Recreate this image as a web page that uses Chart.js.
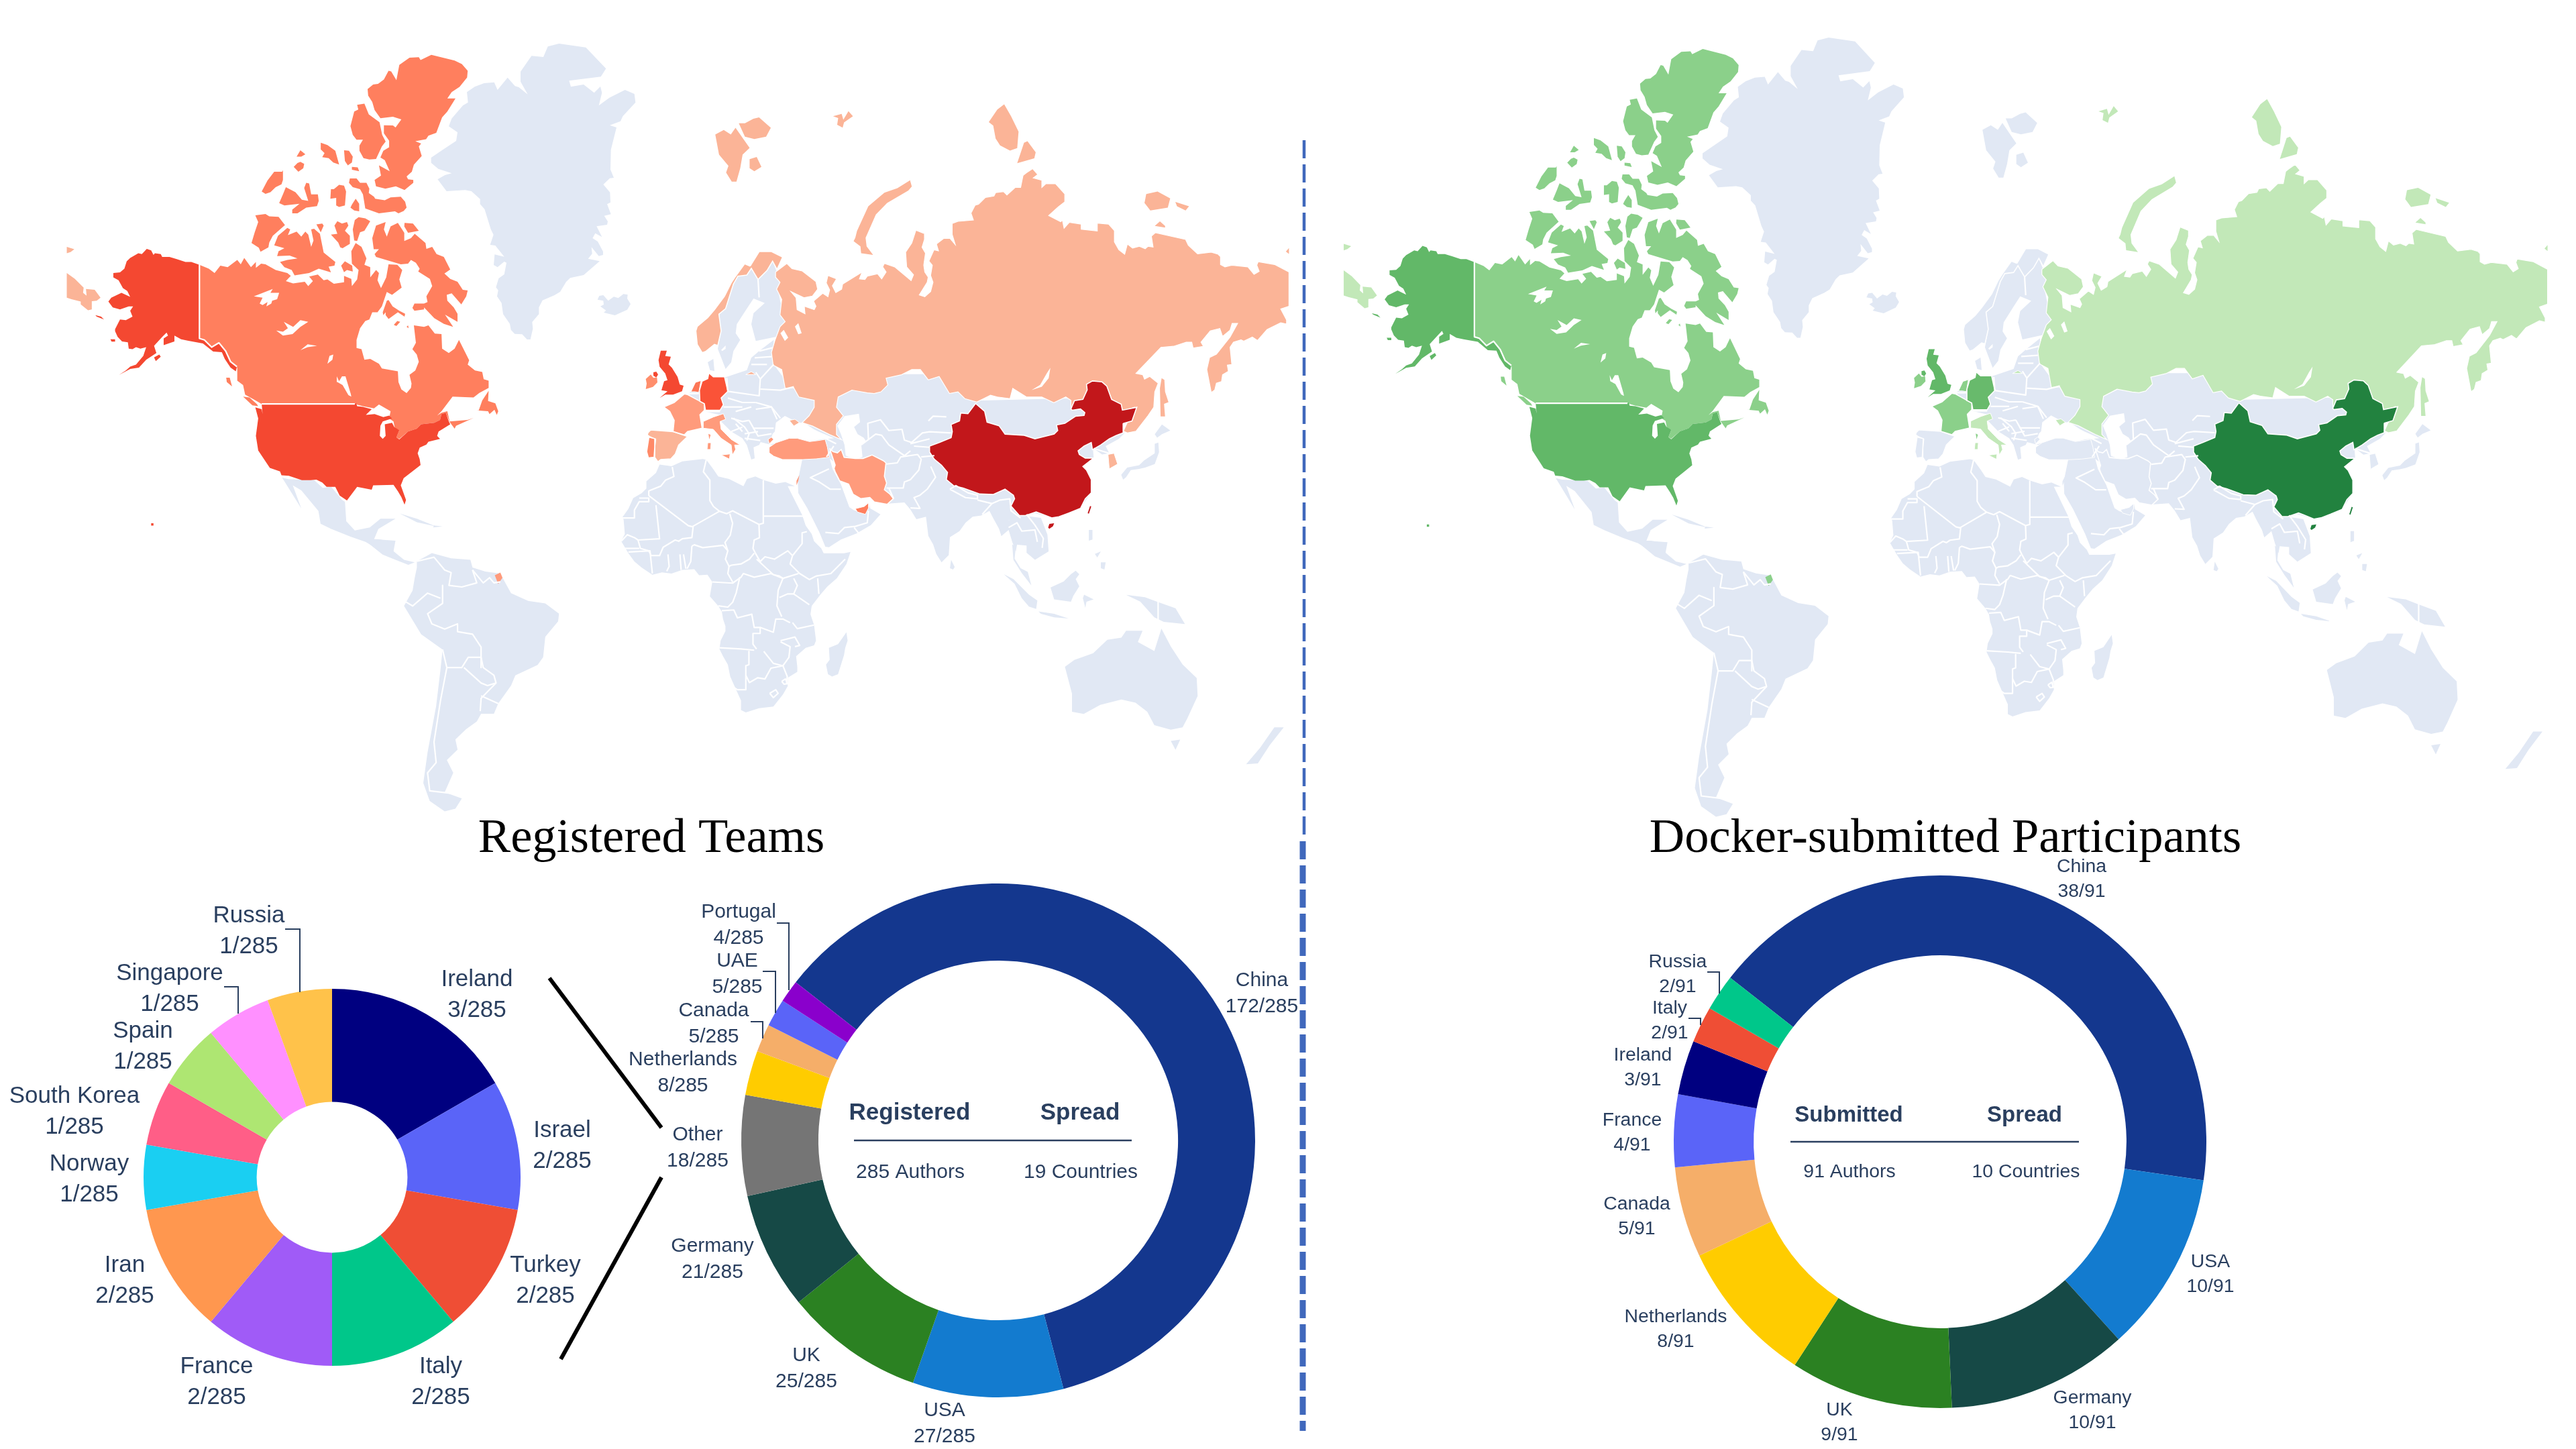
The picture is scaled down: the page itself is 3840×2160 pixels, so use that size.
<!DOCTYPE html>
<html><head><meta charset="utf-8">
<style>html,body{margin:0;padding:0;background:#fff;width:3840px;height:2160px;overflow:hidden}canvas{position:absolute;display:block}</style>
<script src="https://cdn.jsdelivr.net/npm/chart.js@4/dist/chart.umd.min.js"></script>
</head><body>
<script>
/* ---------- chart values ---------- */
const teamOtherLabels=['Ireland','Israel','Turkey','Italy','France','Iran','Norway','South Korea','Spain','Singapore','Russia'];
const teamOtherValues=[3,2,2,2,2,2,1,1,1,1,1];
const teamOtherColors=['#000080','#5A64F8','#EF4E35','#00C78A','#A05BF7','#FF974F','#1ACFF2','#FF5E87','#AEE672','#FF90FF','#FFC24A'];
const teamLabels=['China','USA','UK','Germany','Other','Netherlands','Canada','UAE','Portugal'];
const teamValues=[172,27,25,21,18,8,5,5,4];
const teamColors=['#14378E','#137BCF','#2B8122','#164946','#757575','#FFCC00','#F5AE69','#5A64F8','#8A00CC'];
const dockerLabels=['China','USA','Germany','UK','Netherlands','Canada','France','Ireland','Italy','Russia'];
const dockerValues=[38,10,10,9,8,5,4,3,2,2];
const dockerColors=['#14378E','#137BCF','#164946','#2B8122','#FFCC00','#F5AE69','#5A64F8','#000080','#EF4E35','#00C78A'];
const teamTotal=285, dockerTotal=91;
/* map shading per country */
const LAND='#E1E8F4';
const teamFill={China:'#C2171B',USA:'#F44831',UK:'#F44831',Germany:'#FA5338',Netherlands:'#FC7757',Canada:'#FF7F5E',UAE:'#FF7F5E',Portugal:'#FF8A68',Ireland:'#FF8E6C',France:'#FF9B7C',Italy:'#FF9B7C',Iran:'#FF9B7C',Turkey:'#FF9B7C',Israel:'#FF9B7C',Russia:'#FBB497',Spain:'#FBB497',Norway:'#FBB497',Korea:'#FBB497'};
const dockerFill={China:'#22823F',USA:'#62B868',UK:'#62B868',Germany:'#68BA6C',Netherlands:'#8BD08A',Canada:'#8BD08A',France:'#8BD08A',Ireland:'#8BD08A',Russia:'#C2E8B8',Italy:'#C2E8B8'};

/* ---------- map outlines: traced lists, each with the frame it was read in [x0,y0,kx,ky] ---------- */
const NA=[90,60,.4337,.4337], WA=[60,50,.638,.7653], GR=[520,60,1/3,1/3], EU=[950,380,1/3,1/3], AS=[1150,130,.5102,.5102], CN=[1200,540,.3571,.3571], AF=[910,680,.3571,.3571], OC=[900,100,.7015,.6696];
const greenland=[890,28,940,15,1060,32,1150,127,1127,163,985,181,993,208,1050,198,1097,235,1125,207,1132,235,1118,292,1165,257,1235,222,1277,240,1282,278,1225,340,1215,362,1167,380,1197,390,1172,490,1170,578,1185,615,1167,617,1138,645,1168,680,1170,725,1155,733,1172,778,1142,785,1158,810,1155,825,1108,832,1132,880,1102,863,1090,885,1113,900,1137,945,1137,960,1118,965,1085,925,1088,955,1070,977,1122,988,1050,1050,990,1063,972,1080,945,1125,920,1140,866,1163,850,1195,850,1225,820,1260,823,1290,812,1338,797,1338,775,1315,742,1313,725,1295,720,1268,690,1225,683,1175,663,1145,668,1118,658,1105,670,1065,695,1047,705,995,695,990,665,1015,648,1005,652,958,695,968,655,918,632,915,647,870,635,845,607,755,587,733,587,710,548,675,520,670,437,675,397,622,430,603,460,595,400,575,368,548,368,525,420,490,480,450,486,412,447,385,460,350,510,292,533,278,528,232,563,208,605,192,650,188,665,222,710,167,743,205,760,210,800,242,768,185,768,140,817,70,870,75];
const iceland=[1112,1160,1120,1143,1138,1140,1160,1165,1185,1147,1205,1153,1228,1135,1247,1138,1245,1155,1260,1180,1245,1205,1190,1230,1140,1218,1150,1208,1125,1190,1140,1182,1138,1165];
const canadaMain=[478,772,510,785,530,800,550,775,575,780,608,755,620,770,632,748,655,780,672,762,672,782,690,768,705,770,740,790,780,800,792,810,775,828,800,836,840,830,852,845,868,828,855,812,885,805,905,825,918,822,940,837,975,832,975,810,1000,820,1002,845,1020,822,1025,790,1002,768,1000,725,1015,697,1035,710,1052,750,1045,772,1065,780,1065,815,1085,790,1095,800,1090,825,1102,852,1120,815,1128,770,1158,772,1175,790,1165,822,1173,850,1140,875,1122,865,1105,915,1090,935,1072,935,1062,960,1048,965,1030,990,1018,1030,1018,1058,1035,1062,1045,1098,1065,1095,1095,1112,1105,1128,1160,1138,1162,1175,1172,1200,1190,1213,1205,1195,1207,1180,1200,1150,1220,1135,1232,1105,1225,1080,1210,1062,1222,1040,1215,980,1250,985,1265,980,1287,1008,1310,1010,1312,1060,1335,1075,1355,1060,1370,1030,1405,1100,1400,1115,1425,1135,1450,1140,1455,1165,1472,1170,1472,1195,1440,1212,1420,1228,1348,1225,1310,1275,1295,1290,1310,1280,1330,1275,1338,1310,1400,1305,1420,1298,1360,1325,1355,1335,1338,1312,1325,1280,1310,1285,1305,1305,1285,1315,1240,1320,1225,1335,1195,1345,1165,1370,1155,1365,1165,1340,1150,1335,1145,1310,1130,1300,1135,1275,1095,1252,1078,1265,1040,1258,1018,1252,1015,1245,1012,1250,692,1250,665,1235,635,1218,628,1185,608,1170,608,1125,590,1110,570,1068,545,1040,520,1058,495,1030,478,1025];
const canadaIslands=[
[1165,85,1200,60,1232,58,1238,68,1275,50,1355,70,1380,82,1400,105,1398,128,1372,160,1345,178,1330,200,1358,200,1330,245,1312,265,1292,318,1265,328,1257,340,1220,347,1240,355,1232,365,1242,398,1215,428,1208,452,1190,468,1195,478,1213,480,1213,490,1183,515,1153,502,1117,510,1085,502,1080,480,1102,465,1095,430,1132,450,1115,412,1100,403,1110,380,1130,368,1130,345,1112,320,1112,292,1143,293,1152,300,1172,272,1143,263,1100,268,1080,240,1072,212,1058,190,1056,168,1075,152,1092,150,1112,135,1128,105,1137,107,1155,137],
[1020,222,1045,218,1060,255,1097,282,1106,325,1118,348,1105,365,1085,408,1062,410,1042,405,1028,380,1028,362,1040,342,1018,342,1005,325,997,295,1010,245,1024,238],
[812,400,825,378,842,392,828,400],[802,435,815,422,825,418,838,425,835,440,818,452],
[895,352,918,360,945,380,958,427,938,420,922,405,900,402,908,388,895,375],[975,378,992,380,1005,400,1002,420,988,430,978,415],[1002,435,1022,437,1027,450,1002,445],
[735,452,762,452,765,447,765,480,760,495,740,505,722,522,705,528,692,520,712,482],
[775,505,808,522,830,548,852,552,838,508,845,490,855,492,862,530,885,530,888,552,882,570,845,575,815,595,797,595,797,582,822,562,770,568,752,560,765,530],
[930,512,940,512,958,497,975,500,982,520,978,568,958,573,948,568,948,542,928,545],
[995,475,1018,475,1030,490,1052,490,1062,510,1060,525,1078,538,1082,545,1115,550,1135,540,1170,538,1185,555,1190,575,1180,587,1162,595,1150,588,1095,595,1048,578,1040,530,1030,512,1005,505,992,490],
[1002,565,1015,545,1027,562,1027,588,1010,585,997,575],
[670,602,705,597,718,605,750,607,772,635,730,672,718,695,715,712,688,727,682,713,657,697,668,660,680,625],
[735,705,748,672,780,645,790,650,782,670,812,658,828,675,842,658,852,668,862,710,870,688,862,650,872,648,892,665,905,730,945,762,942,775,922,778,930,798,888,785,855,800,805,808,795,790,770,780,755,762,780,755,815,750,788,740,745,742,750,725,770,715],
[880,633,900,630,905,637,895,660],
[942,637,952,622,968,630,985,625,990,637,978,655,995,672,995,700,970,715,962,712,955,695,930,668,952,665],
[1012,618,1025,608,1048,612,1065,622,1045,655,1030,660,1020,690,1010,688,1005,650],
[1085,637,1118,625,1112,650,1122,675,1135,640,1160,628,1182,662,1182,690,1205,680,1218,665,1255,697,1258,717,1278,710,1293,735,1318,745,1340,788,1320,802,1340,820,1365,830,1383,858,1400,860,1395,880,1378,908,1345,870,1328,875,1330,895,1352,918,1365,940,1365,968,1322,943,1350,985,1318,975,1285,955,1250,918,1250,925,1217,930,1210,920,1217,905,1250,905,1262,900,1258,880,1278,845,1270,820,1230,795,1235,785,1222,765,1205,755,1195,768,1170,770,1085,745,1080,735,1095,718,1077,718,1072,680],
[1183,628,1212,630,1232,655,1205,660,1195,662,1182,640],
[965,775,978,760,1003,775,1005,795,985,790,975,797],
[1122,895,1128,893,1142,915,1165,930,1185,940,1183,950,1160,935,1128,958,1118,945,1118,935,1110,945,1108,935],
[1146,978,1158,965,1168,968,1155,982],[1190,985,1195,980,1197,990],
[1438,1272,1450,1238,1472,1205,1470,1240,1495,1248,1505,1275,1500,1288,1492,1270,1475,1285,1470,1275,1430,1272],
[628,1225,650,1228,675,1250,680,1258,660,1255],[570,1160,582,1160,590,1190,572,1175]];
const canadaLakes=[[665,880,730,855,722,868,752,868,745,890,728,895,725,905,708,915,712,900,695,910,685,905,695,885],
[742,998,765,1002,782,990,768,968,800,985,825,962,852,968,825,985,798,1010,765,1015],
[825,1065,850,1045,882,1050,850,1055],[918,1112,925,1085,938,1080,935,1098],
[950,1155,958,1172,968,1155,980,1155,998,1215,1000,1225,990,1220,970,1185,952,1175],
[1225,830,1235,820,1245,830,1240,848,1225,850]];
const alaska=[478,772,450,762,430,762,400,752,375,745,350,745,345,735,325,732,320,738,312,722,297,717,280,735,268,732,240,748,228,760,220,785,205,798,182,800,182,815,200,825,215,852,230,862,240,882,210,868,175,885,165,898,180,918,205,925,235,915,250,915,240,930,248,950,225,962,205,960,188,993,188,1000,197,1020,212,1035,232,1038,235,1060,248,1062,260,1055,275,1060,295,1055,285,1085,260,1115,240,1122,225,1135,202,1150,240,1130,270,1125,295,1098,330,1075,322,1050,350,1020,365,1005,370,1015,355,1025,355,1048,392,1035,392,1015,415,1028,440,1033,490,1042,525,1070,555,1072,565,1095,585,1125,603,1138,607,1122,585,1105,568,1068,545,1040,520,1055,495,1030,478,1025];
const usaSmall=[[322,1090,340,1080,345,1088,328,1103],[120,945,140,950,150,960,125,950],[172,1028,188,1028,188,1036,176,1036],[312,1660,320,1660,320,1668,312,1668]];
const usaMain=[692,1250,1012,1250,1016,1245,1020,1258,1040,1260,1070,1268,1050,1288,1080,1285,1110,1295,1130,1290,1140,1300,1108,1310,1100,1325,1098,1360,1108,1370,1118,1360,1115,1320,1140,1315,1148,1330,1165,1340,1155,1365,1165,1372,1195,1345,1225,1335,1240,1320,1285,1315,1305,1305,1310,1285,1325,1280,1335,1310,1340,1320,1300,1345,1295,1360,1305,1370,1265,1380,1258,1390,1235,1400,1228,1420,1235,1440,1238,1460,1215,1478,1180,1505,1170,1530,1188,1580,1183,1596,1172,1570,1160,1550,1145,1528,1075,1530,1070,1545,1020,1535,985,1582,960,1565,945,1535,915,1535,900,1520,880,1510,860,1512,830,1512,785,1497,760,1495,755,1482,720,1470,700,1440,680,1410,672,1360,680,1300,670,1262,692,1268,695,1285];
const chukotkaWest=[[22,800,50,820,80,850,78,868,90,878,88,855,118,858,138,885,125,895,108,897,108,925,95,928,70,908,70,898,38,890,22,885],[22,710,48,718,35,728,22,732]];
const mexico=[565,865,580,868,640,870,660,885,680,883,705,908,712,912,715,950,735,968,770,962,795,945,830,945,790,965,780,985,830,988,825,1010,800,1000,800,1010,760,990,725,980,680,965,655,955,650,930,610,890,590,880,610,925,580,885];
const centralAm=[760,985,790,985,825,990,825,1008,850,1025,875,1030,860,1035,830,1025,800,1015,770,995];
const cuba=[840,935,880,945,925,960,880,952];
const hispaniola=[920,958,940,960,918,962];
const southAm=[880,1028,915,1012,960,1022,1005,1025,1010,1040,1040,1048,1075,1052,1090,1075,1100,1090,1140,1105,1180,1110,1212,1130,1210,1145,1180,1175,1175,1215,1162,1230,1110,1250,1100,1270,1070,1305,1060,1325,1030,1325,1020,1340,995,1355,970,1375,975,1395,950,1415,965,1440,945,1478,985,1490,970,1510,945,1515,910,1495,895,1460,905,1400,925,1310,935,1240,940,1200,890,1170,850,1115,870,1085,875,1060,880,1040];
const frGuiana=[1062,1055,1075,1050,1080,1060,1070,1072];
const southAmBorders=[[880,1028,920,1020,945,1045,960,1050,955,1075,985,1078,1020,1070,1010,1045],[1010,1045,1035,1070,1050,1060,1060,1070,1075,1068],[940,1075,940,1110,905,1130,915,1150,945,1160,975,1150,975,1165,1010,1170,1030,1195,1030,1235],[850,1105,870,1115,905,1090,935,1100],[940,1200,950,1235,985,1235,1000,1215,1030,1215,1035,1235,1060,1250,1065,1265,1045,1270,1030,1265,990,1235],[950,1235,935,1300,920,1380,925,1420,905,1440,910,1475,960,1480],[1065,1265,1030,1295,1028,1320],[1030,1290,1070,1305]];
const africa=[205,35,255,42,300,22,385,12,400,15,430,55,450,85,495,95,555,125,570,95,605,85,640,100,690,115,730,108,770,125,740,125,775,195,800,245,815,290,840,325,850,355,880,385,890,405,975,405,1002,400,985,450,945,510,905,545,875,580,840,625,835,660,850,705,858,770,850,790,815,800,775,835,780,880,780,900,740,925,740,960,720,995,680,1045,620,1052,565,1070,545,1060,545,1020,520,965,500,920,490,870,470,835,455,805,460,770,480,730,480,710,470,680,465,650,450,625,415,585,425,525,405,495,370,497,350,472,300,475,255,490,215,485,175,495,130,465,100,440,75,405,45,355,60,325,55,265,50,255,75,220,95,175,130,155,150,135,150,105,190,70];
const madagascar=[985,735,990,770,980,800,975,830,950,910,925,920,908,910,900,870,915,850,912,800,950,785];
const africaBorders=[[160,165,325,290,345,295,340,340,300,345,285,355,270,350,220,380,205,415,170,415,160,395,125,385,115,350,205,345,190,205],[160,165,160,145,210,125,230,100,265,85,258,45],[50,258,100,258,100,225,120,190,160,190,160,175,120,175],[400,15,388,65,415,100,415,185,430,210,455,230,340,295],[455,230,485,240,510,228,620,285,638,280,638,100],[638,250,805,250],[498,240,510,280,500,330,478,360,490,395,480,430,495,460,505,455,545,450,580,430,600,405],[620,285,622,340,600,350,595,385,605,405],[605,405,625,440,645,420,685,430,740,395,760,415,800,365,800,320,820,315],[760,415,750,450,790,490,830,515,860,500,920,490,980,430],[340,375,350,370,385,382,470,372,490,395],[340,375,335,440,320,470],[240,410,245,460,235,480],[290,410,295,475],[305,410,315,470],[115,350,100,340,70,328,45,355],[45,385,120,385],[75,400,165,395,175,490],[425,525,510,530,545,505,555,490,600,505,670,490,720,510],[495,460,490,490,510,525],[610,430,680,495,705,500,720,510,785,490],[720,510,700,560,695,625,715,670],[540,505,525,570,510,610,490,630,450,625],[465,645,515,642,530,675,590,660,600,715,625,715,625,740,595,740,595,785,610,805],[625,715,680,735,690,680,720,680,750,695],[455,800,545,805,600,810],[578,815,578,870,565,875,565,975,530,975,515,965],[565,915,580,945,615,925,645,930,670,885,720,875],[640,815,680,865,720,875,745,840,750,795,710,775],[765,575,830,620],[850,705,780,720,760,695],[710,770,770,755,790,790,770,795],[720,875,738,920,735,950],[870,575,865,510],[765,510,780,540,765,575,740,575,705,590],[665,990,690,975,700,990,680,1008,665,990],[715,940,730,930,740,950,725,952,715,940]];
const asiaBlob=[-200,250,130,150,340,50,560,50,710,160,1140,150,1170,220,1200,330,1205,400,1160,435,1195,510,1190,550,1150,610,1035,650,960,630,900,650,850,660,820,725,810,695,785,650,770,620,735,640,700,645,670,670,645,705,605,730,600,805,570,835,548,800,535,760,515,725,505,645,465,655,440,615,415,585,345,590,100,400,0,380,-200,330];
const arabia=[-30,495,-10,400,100,390,115,445,150,510,185,605,205,618,250,630,268,588,272,610,315,635,275,680,215,715,150,740,100,772,85,770,60,710,30,650,10,610,-28,546];
const indochina=[810,690,850,660,910,640,985,650,1012,720,1017,790,960,825,925,795,925,765,885,762,880,790,865,750,850,700,820,725];
const malay=[865,760,880,770,875,820,900,860,930,875,945,932,905,880,870,825];
const koreaNorth=[1200,360,1270,315,1335,295,1310,320,1255,350,1270,380,1240,385,1205,360];
const koreaSouth=[1265,385,1290,380,1305,425,1270,445];
const japan=[[1320,470,1345,440,1395,430,1415,410,1460,380,1460,340,1475,335,1478,375,1460,425,1420,440,1395,445,1360,450,1340,480,1328,490],[1460,300,1490,260,1525,285,1490,300,1470,315]];
const seAsiaIslands=[[830,885,870,905,935,970,970,995,965,1030,935,1020,905,985,875,925],[975,1040,1040,1050,1100,1070,1040,1065,985,1050],[1025,940,1080,915,1110,885,1130,870,1145,885,1130,905,1145,935,1120,975,1110,1000,1040,990],[1165,970,1205,990,1175,1000,1170,1025,1160,985],[1185,700,1200,700,1200,740,1185,745],[1235,835,1255,835,1250,865,1235,860],[1210,800,1235,790,1220,815],[610,825,625,855,618,865,605,860]];
const oceania=[[980,1335,1000,1320,1040,1305,1070,1275,1100,1270,1110,1255,1145,1255,1135,1280,1170,1300,1185,1250,1205,1290,1230,1330,1260,1360,1262,1400,1240,1450,1230,1470,1205,1475,1170,1465,1155,1435,1130,1415,1100,1408,1055,1420,1020,1440,995,1435,995,1395],[1205,1500,1225,1497,1215,1520],[1425,1470,1445,1470,1415,1510,1390,1550,1365,1552,1395,1515],[1110,1175,1150,1180,1175,1190,1215,1205,1235,1240,1190,1235,1170,1225,1140,1190]];
const oceaniaBorders=[[1178,1188,1178,1232]];
const scandinavia=[510,60,540,110,580,70,605,28,620,65,640,125,630,160,640,210,665,295,625,365,530,385,510,310,520,260,570,215,520,195,490,240,445,310,440,350,460,380,430,430,420,480,395,510,360,420,375,340,365,265,395,240,430,130,450,95,490,90];
const denmark=[315,480,340,465,345,520,325,515];
const europeMain=[400,545,490,515,510,460,545,430,610,380,610,490,670,570,800,660,790,690,750,710,780,700,770,730,730,745,690,735,640,730,615,780,600,810,580,825,555,830,545,850,520,860,525,910,510,915,490,850,470,820,420,790,370,740,390,720,300,700,230,620,240,610,300,570];
const caucasus=[810,790,900,820,930,840,920,870,860,870,850,830];
const blackSea=[615,790,620,750,660,720,690,735,720,750,745,750,790,780,810,790,880,820,820,825,770,835,715,820,680,820,620,840,590,850,605,800];
const caspian=[135,265,165,225,225,215,230,250,205,270,220,300,245,315,255,330,235,345,240,395,210,405,170,390,165,345,150,300];
const norway=[505,50,545,-15,600,-15,650,10,625,65,605,28,580,70,540,110,510,60,490,90,450,95,430,130,395,240,365,265,375,340,360,405,345,400,305,432,290,437,268,400,262,340,268,320,315,280,345,245,390,185,420,125,440,95,480,40];
const russiaMain=[12,540,45,515,60,530,90,537,130,568,135,590,120,610,95,615,57,597,72,615,75,650,98,662,96,640,125,650,130,640,123,625,150,602,165,612,170,592,160,572,165,550,190,560,178,580,188,600,205,590,208,575,265,540,257,560,273,562,280,552,310,545,322,560,335,540,325,525,330,515,360,525,408,565,415,548,395,525,392,482,410,455,422,418,448,428,447,445,440,468,450,485,445,520,448,540,458,555,455,570,432,607,448,612,465,597,472,570,465,550,470,520,460,508,475,475,488,478,482,458,503,442,522,442,537,460,528,430,528,398,545,392,590,388,583,368,595,345,605,342,625,322,650,318,655,308,678,305,688,315,712,293,728,293,735,258,745,250,763,238,778,255,765,265,790,272,790,293,802,282,830,282,857,312,857,335,838,350,810,375,845,393,850,388,855,412,870,395,905,400,905,415,952,420,952,397,985,400,1003,420,1002,452,1015,475,1032,488,1040,458,1055,470,1075,465,1092,472,1100,465,1115,467,1110,435,1122,425,1210,445,1218,462,1245,487,1285,482,1305,488,1312,495,1312,518,1325,525,1345,520,1392,525,1410,547,1425,538,1418,520,1422,510,1470,518,1512,540,1512,640,1488,648,1505,680,1505,692,1488,688,1448,708,1420,740,1405,730,1380,742,1372,738,1350,745,1340,760,1345,810,1332,812,1335,830,1318,840,1315,860,1300,865,1295,885,1285,892,1272,825,1280,790,1300,780,1340,730,1362,690,1346,690,1340,710,1318,728,1310,705,1282,712,1255,745,1262,757,1232,762,1228,745,1212,745,1175,757,1138,760,1065,836,1085,840,1090,853,1105,845,1130,865,1120,890,1117,935,1100,960,1065,1005,1040,1010,1028,1005,1060,935,1000,960,875,935,875,915,860,905,825,922,790,905,745,905,705,880,697,910,660,905,640,900,600,920,565,910,545,890,520,895,490,845,458,855,435,825,410,825,380,840,335,850,340,870,320,890,300,895,280,893,235,885,195,905,190,935,210,960,190,985,190,1015,205,1030,170,1015,120,990,90,980,110,960,125,935,125,915,80,905,65,878,40,880,30,825,5,812,0,775,10,740,25,700,40,685,25,665,30,620,15,590,25,570,12,555];
const russiaIslandsAS=[[245,440,250,420,283,348,330,308,368,295,405,272,410,290,400,302,338,338,305,372,275,440,278,465,297,490,262,485,260,465,240,450],[180,85,205,78,210,95,225,70,238,85,212,103,208,118,192,110,195,90],[635,102,660,65,680,50,700,85,722,130,718,178,697,185,668,170,655,150,648,112],[718,222,738,162,748,158,772,190,768,208],[1095,312,1128,305,1165,325,1158,352,1107,360,1090,338],[1180,335,1220,348,1210,360,1185,348],[1120,405,1135,392,1150,405,1150,410],[1503,480,1512,470,1512,487],[1140,850,1148,855,1150,890,1160,920,1147,925,1150,962,1137,962,1135,880]];
const svalbard=[[237,150,255,140,270,150,280,135,310,180,295,195,290,225,282,255,272,255,260,235,265,220,245,195],[287,125,300,125,318,115,330,112,355,135,345,155,320,160,300,155],[310,205,325,200,335,222,320,232,310,225]];
const crimeaKaliningrad=[[680,740,705,735,725,750,700,765],[485,535,510,522,530,535]];
const baikal=[815,820,810,850,790,875,760,885,785,870,805,835];
const euLakes=[[640,350,655,335,675,370,660,385],[705,320,720,305,735,350,720,355],[375,425,395,405,395,420,380,430]];
const china=[712,172,750,205,760,250,810,265,835,300,915,305,960,320,1040,300,1055,285,1050,262,1085,255,1130,225,1165,222,1168,210,1150,195,1115,200,1110,195,1125,160,1160,155,1178,115,1175,92,1200,78,1240,82,1260,100,1280,155,1320,175,1325,200,1385,188,1365,245,1330,255,1328,295,1300,305,1270,320,1235,345,1200,365,1195,335,1165,350,1140,370,1145,385,1170,400,1205,400,1160,435,1175,450,1195,490,1195,545,1170,570,1150,610,1100,630,1060,645,1030,650,985,632,965,625,920,640,895,640,860,600,875,570,870,555,835,530,785,552,730,550,660,525,620,515,590,490,595,460,570,430,540,405,520,375,520,350,560,335,610,315,615,290,610,260,645,245,650,212,680,215];
const taiwan=[1180,630,1190,600,1195,602,1185,632];
const hainan=[1015,690,1020,675,1040,672,1035,685,1020,695];
const turkey=[[590,860,620,840,680,820,715,820,770,835,810,830,840,825,850,860,858,905,800,912,740,915,690,915,650,915,610,900,590,885],[585,825,600,815,610,825,590,845]];
const iran=[860,865,875,880,895,885,912,870,925,905,975,910,1010,910,1050,895,1100,920,1112,930,1105,990,1115,1020,1105,1050,1130,1070,1145,1090,1118,1115,1060,1105,1040,1085,1000,1090,965,1070,945,1025,905,1010,885,970,880,955,885,940];
const uae=[975,1135,1015,1125,1035,1108,1035,1130,1020,1160,985,1150];
const israel=[725,985,712,1010,712,1030,720,1010];
const uk=[105,428,132,428,125,452,150,455,140,490,155,505,180,545,190,580,207,585,200,610,160,625,125,625,100,640,135,610,108,605,120,565,135,560,125,530,100,500,95,470];
const nIreland=[72,525,85,522,93,535,85,548,72,540];
const ireland=[38,555,60,535,72,550,88,548,90,570,70,590,38,600,42,575];
const france=[118,680,165,660,210,622,225,625,300,665,300,695,280,715,290,775,225,790,210,805,160,790,165,740,145,700];
const corsica=[318,800,328,805,322,825];
const spain=[48,795,60,783,160,790,225,812,185,850,170,890,150,912,105,915,92,925,78,905,78,860,82,825,55,812,45,805];
const portugal=[52,815,80,822,78,860,75,905,50,908,42,880];
const germany=[320,528,340,545,390,545,405,610,375,640,385,670,370,695,305,695,300,665,280,655,278,605,290,565,315,553];
const netherlands=[240,612,260,570,285,562,275,615,258,612];
const italy=[[295,745,340,725,385,710,395,735,370,745,375,780,420,825,460,850,435,850,440,870,425,895,420,850,375,820,340,780,295,775],[375,895,415,890,412,913],[315,840,330,840,328,870,312,870]];
const europeBorders=[[400,550,405,610,545,630,550,555,530,525],[510,490,580,490],[525,460,600,455],[550,600,640,605,700,590],[530,660,600,680,640,730],[530,690,600,680,625,735],[500,740,520,775,610,775],[405,640,470,660,530,660],[385,680,470,680],[440,700,510,680],[430,730,480,770,500,800,490,830],[550,830,480,820],[540,110,545,190],[300,700,370,700],[230,620,275,620],[610,490,550,555],[420,730,470,745,500,740],[440,755,470,790],[520,775,540,810,600,800],[480,800,540,790],[420,790,470,770],[545,430,605,415]];
const asiaBorders=[[265,325,262,255,315,240,350,285,405,280,415,325,445,335,490,295,520,290,610,295],[235,345,295,300,320,305,350,345,415,390,440,370],[340,425,385,420,400,395,470,385,485,405,475,450,440,490,415,500,410,525,340,525],[350,525,370,570],[525,435,545,480,510,530,480,555,455,565,480,610,440,608],[440,340,520,320],[455,350,520,355],[485,395,540,390],[605,530,630,515,680,545,720,555,720,570,670,565,605,530],[720,575,780,590,740,635],[780,590,815,575,855,570,860,620,900,650],[850,690,885,670,905,705,960,700,970,750],[925,635,960,680,995,735,990,775],[85,710,140,715,165,690,210,685,260,670,265,620],[205,690,225,715],[20,480,60,500,105,530,150,530],[25,480,100,445],[515,245,535,225,590,228],[1205,360,1270,380],[90,395,120,350],[50,300,130,340]];

/* ---------- helpers ---------- */
function pts(z,a,closed){const o=[];for(let i=0;i+1<a.length;i+=2)o.push({x:z[0]+a[i]*z[2],y:z[1]+a[i+1]*z[3]});if(closed)o.push(o[0]);return o;}
const areaDs=(z,a,c,bw)=>({data:pts(z,a,true),showLine:true,fill:'shape',backgroundColor:c,borderColor:'#fff',borderWidth:bw,pointRadius:0,tension:0,clip:false});
const lineDs=(z,a)=>({data:pts(z,a,false),showLine:true,fill:false,borderColor:'#fff',borderWidth:2.2,pointRadius:0,tension:0,borderJoinStyle:'round'});
function mapDatasets(f){
  const c=n=>f[n]||LAND, d=[];
  const base=(z,a)=>d.push(areaDs(z,a,LAND,0)), col=(z,a,n,bw=1.6)=>d.push(areaDs(z,a,c(n),bw));
  base(GR,greenland);base(GR,iceland);base(WA,mexico);base(WA,centralAm);base(WA,cuba);base(WA,hispaniola);base(WA,southAm);
  base(AF,africa);base(AF,madagascar);base(CN,asiaBlob);base(CN,arabia);base(CN,indochina);base(CN,malay);base(CN,koreaNorth);
  japan.forEach(s=>base(CN,s));seAsiaIslands.forEach(s=>base(CN,s));oceania.forEach(s=>base(OC,s));
  base(EU,scandinavia);base(EU,denmark);base(EU,europeMain);base(EU,caucasus);
  d.push(areaDs(EU,blackSea,'#fff',0));d.push(areaDs(CN,caspian,'#fff',0));
  col(EU,norway,'Norway');col(AS,russiaMain,'Russia',1.2);
  russiaIslandsAS.forEach(s=>col(AS,s,'Russia',0));svalbard.forEach(s=>col(OC,s,'Norway',0));chukotkaWest.forEach(s=>col(NA,s,'Russia',0));crimeaKaliningrad.forEach(s=>col(EU,s,'Russia',1));
  d.push(areaDs(AS,baikal,'#fff',0));euLakes.forEach(s=>d.push(areaDs(EU,s,'#fff',0)));
  col(CN,china,'China');col(CN,taiwan,'China',0);col(CN,hainan,'China',0);
  turkey.forEach(s=>col(EU,s,'Turkey',1));col(EU,iran,'Iran');col(EU,uae,'UAE',1);col(EU,israel,'Israel',0);col(CN,koreaSouth,'Korea',1);
  col(EU,spain,'Spain');col(EU,portugal,'Portugal');col(EU,france,'France');col(EU,corsica,'France',0);
  col(EU,germany,'Germany');col(EU,netherlands,'Netherlands',1);italy.forEach(s=>col(EU,s,'Italy',1));
  col(EU,uk,'UK',0);col(EU,nIreland,'UK',0);col(EU,ireland,'Ireland',0);
  col(NA,canadaMain,'Canada',0);canadaIslands.forEach(s=>col(NA,s,'Canada',0));canadaLakes.forEach(s=>d.push(areaDs(NA,s,'#fff',0)));
  col(NA,usaMain,'USA',0);col(NA,alaska,'USA',0);usaSmall.forEach(s=>col(NA,s,'USA',0));
  col(WA,frGuiana,'France',0);
  d.push(lineDs(NA,[692,1250,1012,1250]));d.push(lineDs(NA,[478,772,478,1025,495,1030,520,1055,545,1040,568,1068,585,1105,607,1122]));
  africaBorders.forEach(s=>d.push(lineDs(AF,s)));southAmBorders.forEach(s=>d.push(lineDs(WA,s)));oceaniaBorders.forEach(s=>d.push(lineDs(OC,s)));
  asiaBorders.forEach(s=>d.push(lineDs(CN,s)));europeBorders.forEach(s=>d.push(lineDs(EU,s)));
  return d.reverse(); /* Chart.js paints the first dataset last */
}
function place(id,l,t,w,h){const c=document.createElement('canvas');c.id=id;c.width=w;c.height=h;c.style.cssText=`left:${l}px;top:${t}px;width:${w}px;height:${h}px`;document.body.appendChild(c);return c;}
const common={responsive:false,animation:false,devicePixelRatio:1,layout:{padding:0,autoPadding:false},plugins:{legend:{display:false},tooltip:{enabled:false}}};
function mapChart(id,l,t,w,h,xMax,yMax,fill){
  new Chart(place(id,l,t,w,h),{type:'scatter',data:{datasets:mapDatasets(fill)},options:{...common,scales:{x:{type:'linear',display:false,min:0,max:xMax},y:{type:'linear',display:false,min:0,max:yMax,reverse:true}}}});
}
mapChart('mapTeams',0,0,1940,1300,1940,1300,teamFill);
mapChart('mapDocker',1905,-10,1935,1310,1935/.985,1310/1.015,dockerFill);

const INK='#2A3F5F', TEXT_DY=2.5;
function donut(id,box,labels,values,colors,total,rot,radius,cut,font,lineH,layout,leaders,centre){
  const textPlugin={id:id+'Text',afterDraw(ch){const x=ch.ctx;x.save();x.translate(-box[0],-box[1]);x.fillStyle=INK;x.strokeStyle=INK;x.textAlign='center';x.textBaseline='middle';x.font=`${font}px "Liberation Sans"`;
    labels.forEach((n,i)=>{const [cx,cy]=layout[i];x.fillText(n,cx,cy+TEXT_DY-lineH/2);x.fillText(values[i]+'/'+total,cx,cy+TEXT_DY+lineH/2);});
    x.lineWidth=2;leaders.forEach(p=>{x.beginPath();p.forEach((q,k)=>k?x.lineTo(q[0],q[1]):x.moveTo(q[0],q[1]));x.stroke();});
    if(centre){x.font=`bold ${centre.bold}px "Liberation Sans"`;x.fillText(centre.h[0],centre.x[0],centre.y[0]+TEXT_DY);x.fillText(centre.h[1],centre.x[1],centre.y[0]+TEXT_DY);
      x.font=`${centre.size}px "Liberation Sans"`;x.fillText(centre.t[0],centre.x[2],centre.y[1]+TEXT_DY);x.fillText(centre.t[1],centre.x[3],centre.y[1]+TEXT_DY);
      x.lineWidth=2.5;x.beginPath();x.moveTo(centre.rule[0],centre.rule[2]);x.lineTo(centre.rule[1],centre.rule[2]);x.stroke();}
    x.restore();}};
  new Chart(place(id,...box),{type:'doughnut',data:{labels,datasets:[{data:values,backgroundColor:colors,borderWidth:0}]},options:{...common,rotation:rot,radius,cutout:cut},plugins:[textPlugin]});
}
donut('pieOther',[0,1340,990,830],teamOtherLabels,teamOtherValues,teamOtherColors,teamTotal,0,281,'40%',35,46.5,
 [[711,1481],[838,1706],[813,1907],[657,2058],[323,2058],[186,1907],[133,1756],[111,1655],[213,1558],[253,1472],[371,1386]],
 [[[425,1385],[447,1385],[447,1479]],[[334,1471],[355,1471],[355,1511]]],null);
donut('donutTeams',[900,1240,1176,920],teamLabels,teamValues,teamColors,teamTotal,-52,383,'70%',30,39,
 [[1881,1479],[1408,2120],[1202,2038],[1062,1875],[1040,1709],[1018,1597],[1064,1524],[1099,1450],[1101,1377]],
 [[[1158,1376],[1176,1376],[1176,1476]],[[1137,1448],[1156,1448],[1156,1510]],[[1119,1523],[1137,1523],[1137,1548]]],
 {bold:35,size:30,h:['Registered','Spread'],t:['285 Authors','19 Countries'],x:[1356,1610,1357,1611],y:[1657,1745],rule:[1273,1687,1700]});
donut('donutDocker',[2350,1244,1084,916],dockerLabels,dockerValues,dockerColors,dockerTotal,-52,397,'70%',28.4,37,
 [[3103,1308],[3295,1897],[3119,2100],[2742,2118],[2498,1979],[2440,1811],[2433,1686],[2449,1589],[2489,1519],[2501,1450]],
 [[[2545,1449],[2563,1449],[2563,1481]],[[2517,1518],[2535,1518],[2535,1528]]],
 {bold:33,size:28.4,h:['Submitted','Spread'],t:['91 Authors','10 Countries'],x:[2756,3018,2757,3020],y:[1660,1745],rule:[2669,3099,1702]});

/* overlay: divider, connector lines, titles */
const ln=(p,c,w,dash)=>({data:p,showLine:true,fill:false,borderColor:c,borderWidth:w,borderDash:dash||[],pointRadius:0,tension:0});
const dividerThin=[{x:1944,y:209},{x:1944,y:1250}], dividerThick=[{x:1942,y:1254},{x:1942,y:2133}];
const connectorUpper=[{x:819,y:1458},{x:986,y:1681}], connectorLower=[{x:836,y:2026},{x:986,y:1755}];
const titlePlugin={id:'titles',afterDraw(ch){const x=ch.ctx;x.save();x.fillStyle='#000';x.textAlign='center';x.textBaseline='alphabetic';x.font='72.5px "Liberation Serif"';x.fillText('Registered Teams',971,1270);x.fillText('Docker-submitted Participants',2900,1270);x.restore();}};
new Chart(place('overlay',0,0,3840,2160),{type:'scatter',data:{datasets:[ln(dividerThin,'#4068BC',4.5,[27,9]),ln(dividerThick,'#4068BC',9,[27,9]),ln(connectorUpper,'#000',6),ln(connectorLower,'#000',6)]},options:{...common,scales:{x:{type:'linear',display:false,min:0,max:3840},y:{type:'linear',display:false,min:0,max:2160,reverse:true}}},plugins:[titlePlugin]});
</script>
</body></html>
